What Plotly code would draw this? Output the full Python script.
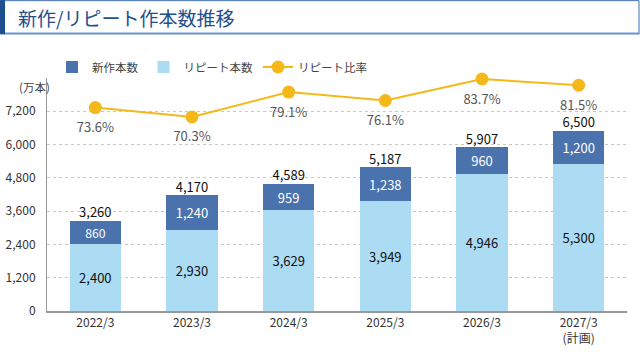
import plotly.graph_objects as go

categories = ["2022/3", "2023/3", "2024/3", "2025/3", "2026/3", "2027/3<br>(計画)"]
repeat_counts = [2400, 2930, 3629, 3949, 4946, 5300]
new_counts = [860, 1240, 959, 1238, 960, 1200]
totals = [3260, 4170, 4589, 5187, 5907, 6500]
repeat_ratio = [73.6, 70.3, 79.1, 76.1, 83.7, 81.5]
y_ticks = [0, 1200, 2400, 3600, 4800, 6000, 7200]

FONT = "Noto Sans CJK JP"
C_NEW = "#4a72ad"
C_REP = "#acdbf4"
C_LINE = "#f4b919"

L, R, T, B = 47, 13, 78, 40.5
PW, PH = 640 - L - R, 352 - T - B


def px(x):
    return (x - L) / PW


def py(y):
    return (352 - B - y) / PH


fig = go.Figure()
fig.add_trace(go.Bar(
    x=categories, y=repeat_counts, name="リピート本数", marker_color=C_REP,
    marker_line_width=0, text=[f"{v:,}" for v in repeat_counts],
    textposition="inside", insidetextanchor="middle",
    textfont=dict(color="#111", size=13, family=FONT), legendrank=2,
))
fig.add_trace(go.Bar(
    x=categories, y=new_counts, name="新作本数", marker_color=C_NEW,
    marker_line_width=0, text=[f"{v:,}" for v in new_counts],
    textposition="inside", insidetextanchor="middle",
    textfont=dict(color="white", size=13, family=FONT), legendrank=1,
))
fig.add_trace(go.Scatter(
    x=categories, y=totals, mode="text", text=[f"{v:,}" for v in totals],
    textposition="top center", textfont=dict(color="#111", size=13, family=FONT),
    showlegend=False, cliponaxis=False, hoverinfo="skip",
))
fig.add_trace(go.Scatter(
    x=categories, y=repeat_ratio, name="リピート比率", yaxis="y2",
    mode="lines+markers", line=dict(color=C_LINE, width=2),
    marker=dict(color=C_LINE, size=13), cliponaxis=False, legendrank=3,
))
fig.add_trace(go.Scatter(
    x=categories, y=repeat_ratio, yaxis="y2", mode="markers+text",
    marker=dict(color="rgba(0,0,0,0)", size=22), text=[f"{v}%" for v in repeat_ratio],
    textposition="bottom center", textfont=dict(color="#555", size=13, family=FONT),
    cliponaxis=False, showlegend=False, hoverinfo="skip",
))

fig.update_layout(
    width=640, height=352,
    margin=dict(l=L, r=R, t=T, b=B, autoexpand=False),
    barmode="stack", bargap=0.47,
    paper_bgcolor="white", plot_bgcolor="white",
    font=dict(family=FONT, size=12, color="#333"),
    showlegend=True,
    legend=dict(orientation="h", x=px(52), xanchor="left", y=py(67), yanchor="middle",
                font=dict(size=11.5, color="#444", family=FONT), traceorder="normal",
                itemwidth=30, bgcolor="rgba(0,0,0,0)"),
    xaxis=dict(type="category", range=[-0.5, 5.5], showgrid=False, automargin=False,
               showline=True, linecolor="#999", linewidth=2, ticks="",
               tickfont=dict(size=12, color="#333")),
    yaxis=dict(range=[0, 8400], tickvals=y_ticks, automargin=False,
               ticktext=[f"{v:,}" for v in y_ticks], showgrid=True,
               gridcolor="#c8c8c8", griddash="dot", gridwidth=1,
               showline=True, linecolor="#999", linewidth=1, zeroline=False,
               ticks="", ticklabelstandoff=8, tickfont=dict(size=12, color="#333")),
    yaxis2=dict(range=[1.7, 84.06], overlaying="y", side="right", visible=False),
)

# title bar
fig.add_shape(type="rect", xref="paper", yref="paper",
              x0=px(0.5), x1=px(639), y0=py(33.5), y1=py(0.5),
              line=dict(color="#3f6fb5", width=1), fillcolor="white")
fig.add_shape(type="line", xref="paper", yref="paper",
              x0=px(0.5), x1=px(639.5), y0=py(33.5), y1=py(33.5),
              line=dict(color="#6b93cc", width=2))
fig.add_shape(type="rect", xref="paper", yref="paper",
              x0=px(0), x1=px(5), y0=py(34), y1=py(0),
              line_width=0, fillcolor="#1f4e91")
fig.add_annotation(text="新作/リピート作本数推移", xref="paper", yref="paper",
                   x=px(16), y=py(17), xanchor="left", yanchor="middle",
                   showarrow=False, font=dict(size=19, color="#1f4e8c", family=FONT))
fig.add_annotation(text="(万本)", xref="paper", yref="paper",
                   x=px(34), y=py(87), xanchor="center", yanchor="middle",
                   showarrow=False, font=dict(size=11.5, color="#444", family=FONT))

fig.write_html("out.html")
